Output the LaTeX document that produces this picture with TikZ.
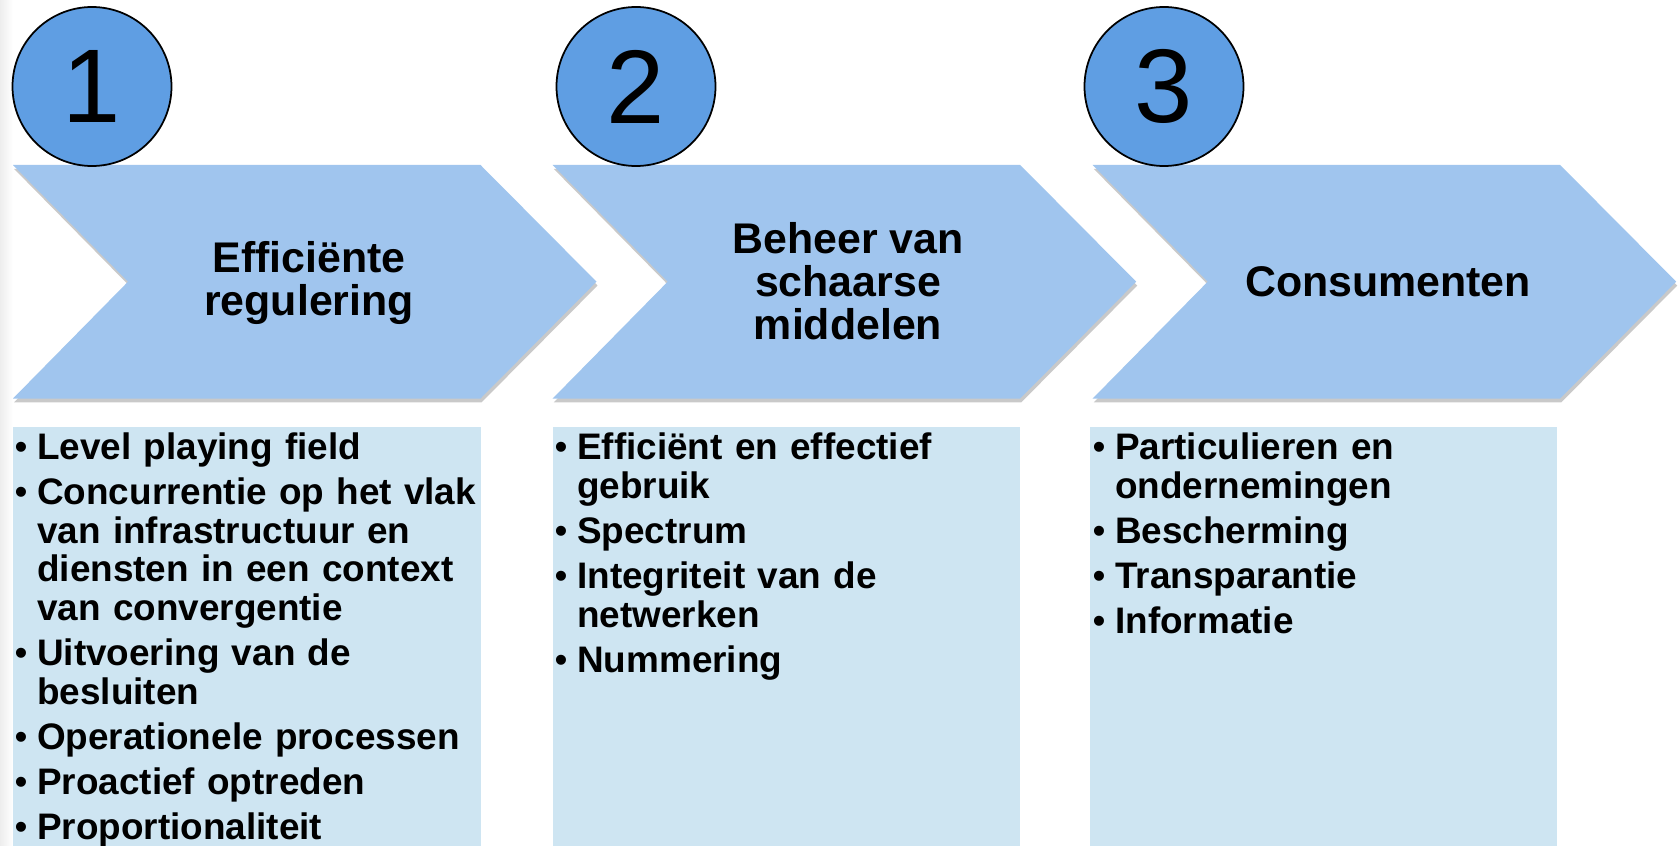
\documentclass[tikz,border=0pt]{standalone}
\usepackage{fontspec}
\setmainfont{Liberation Sans}
\usetikzlibrary{shadows}

\definecolor{rondblauw}{RGB}{95,158,227}
\definecolor{pijlblauw}{RGB}{160,197,238}
\definecolor{vakblauw}{RGB}{206,229,242}

\newlength{\bulind}\setlength{\bulind}{0.225cm}
\newcommand{\itm}{\par\hangindent=\bulind\hangafter=1\noindent\makebox[\bulind][l]{\mdseries\textbullet}\strut}

\begin{document}
\begin{tikzpicture}[
  pijl/.style={fill=pijlblauw, drop shadow={shadow xshift=0.3pt, shadow yshift=-1.1pt, opacity=0.35, fill=black!60}},
  vak/.style={fill=vakblauw},
  rond/.style={circle, draw=black, line width=0.5pt, fill=rondblauw, minimum size=1.59cm, inner sep=0pt, font=\fontsize{29.8}{30}\selectfont},
  kop/.style={align=center, font=\fontsize{12.2}{12.3}\selectfont\bfseries},
  lijst/.style={anchor=north west, inner sep=0pt, text width=5.2cm, font=\fontsize{10.5}{11}\selectfont\bfseries\setlength{\parskip}{1.85pt}}
]
\useasboundingbox (0,0) rectangle (16.8,-8.46);
\fill[white] (0,0) rectangle (16.8,-8.46);
\fill[left color=black!7, right color=white] (0,0) rectangle (0.13,-8.46);

% pijlen
\fill[pijl] (0.13,-1.65) -- ++(4.675,0) -- ++(1.16,-1.167) -- ++(-1.16,-1.168) -- ++(-4.675,0) -- ++(1.15,1.168) -- cycle;
\fill[pijl] (5.527,-1.65) -- ++(4.675,0) -- ++(1.16,-1.167) -- ++(-1.16,-1.168) -- ++(-4.675,0) -- ++(1.15,1.168) -- cycle;
\fill[pijl] (10.927,-1.65) -- ++(4.675,0) -- ++(1.16,-1.167) -- ++(-1.16,-1.168) -- ++(-4.675,0) -- ++(1.15,1.168) -- cycle;

\node[kop] (k1) at (3.09,-2.83) {Efficiënte\\regulering};
\node[kop] (k2) at (8.48,-2.81) {Beheer van\\schaarse\\middelen};
\node[kop] (k3) at (13.88,-2.82) {Consumenten};

\node[rond] (n1) at (0.92,-0.865) {1};
\node[rond] (n2) at (6.36,-0.865) {2};
\node[rond] (n3) at (11.64,-0.865) {3};

% vakken
\fill[vak] (0.13,-4.27) rectangle (4.81,-8.46);
\fill[vak] (5.53,-4.27) rectangle (10.20,-8.46);
\fill[vak] (10.90,-4.27) rectangle (15.57,-8.46);

\node[lijst] (l1) at (0.14,-4.135) {\itm Level playing field
  \itm Concurrentie op het vlak\newline van infrastructuur en\newline diensten in een context\newline van convergentie
  \itm Uitvoering van de\newline besluiten
  \itm Operationele processen
  \itm Proactief optreden
  \itm Proportionaliteit};
\node[lijst] (l2) at (5.54,-4.135) {\itm Efficiënt en effectief\newline gebruik
  \itm Spectrum
  \itm Integriteit van de\newline netwerken
  \itm Nummering};
\node[lijst] (l3) at (10.92,-4.135) {\itm Particulieren en\newline ondernemingen
  \itm Bescherming
  \itm Transparantie
  \itm Informatie};
\end{tikzpicture}
\end{document}
